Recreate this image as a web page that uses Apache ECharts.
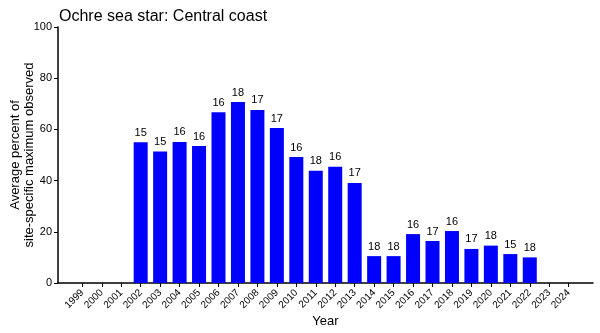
<!DOCTYPE html>
<html>
<head>
<meta charset="utf-8">
<script src="https://cdn.jsdelivr.net/npm/echarts@6/dist/echarts.min.js"></script>
<style>
  html, body { margin: 0; padding: 0; background: #fff; }
  #chart { width: 600px; height: 333px; }
</style>
</head>
<body>
<div id="chart"></div>
<script>
// Survey years shown on the axis
const years = [1999, 2000, 2001, 2002, 2003, 2004, 2005, 2006, 2007, 2008, 2009, 2010, 2011,
  2012, 2013, 2014, 2015, 2016, 2017, 2018, 2019, 2020, 2021, 2022, 2023, 2024];
// Years with data
const dataYears = [2002, 2003, 2004, 2005, 2006, 2007, 2008, 2009, 2010, 2011, 2012, 2013,
  2014, 2015, 2016, 2017, 2018, 2019, 2020, 2021, 2022];
// Average percent of site-specific maximum observed
const avgPercent = [55.0, 51.4, 55.1, 53.5, 66.7, 70.7, 67.6, 60.5, 49.2, 43.8, 45.4, 39.1,
  10.5, 10.5, 19.1, 16.4, 20.3, 13.3, 14.6, 11.3, 10.0];
// Number of sites sampled each year
const siteCounts = [15, 15, 16, 16, 16, 18, 17, 17, 16, 18, 16, 17,
  18, 18, 16, 17, 16, 17, 18, 15, 18];
const yTicks = [0, 20, 40, 60, 80, 100];

const font = '"Liberation Sans", Arial, sans-serif';
const chart = echarts.init(document.getElementById('chart'));

chart.setOption({
  animation: false,
  backgroundColor: '#ffffff',
  title: {
    text: 'Ochre sea star: Central coast',
    left: 54,
    top: 4,
    textStyle: { fontFamily: font, fontSize: 16, fontWeight: 'normal', color: '#000' }
  },
  grid: { left: 58, right: 7, top: 27, bottom: 50, containLabel: false, outerBoundsMode: 'none' },
  xAxis: {
    type: 'value',
    min: years[0] - 1.25,
    max: years[years.length - 1] + 1.25,
    name: 'Year',
    nameLocation: 'middle',
    nameGap: 32,
    nameMoveOverlap: false,
    nameTextStyle: { fontFamily: font, fontSize: 13, color: '#000' },
    axisLine: { show: true, lineStyle: { color: '#000', width: 1.5 } },
    axisTick: { show: true, customValues: years, length: 4, lineStyle: { color: '#000' } },
    axisLabel: {
      customValues: years,
      rotate: 45,
      fontFamily: font,
      fontSize: 10,
      color: '#000',
      margin: 8,
      formatter: v => String(v)
    },
    splitLine: { show: false }
  },
  yAxis: {
    type: 'value',
    min: yTicks[0],
    max: yTicks[yTicks.length - 1],
    interval: 20,
    name: 'Average percent of\nsite-specific maximum observed',
    nameLocation: 'middle',
    nameGap: 22,
    nameMoveOverlap: false,
    nameTextStyle: { fontFamily: font, fontSize: 13, color: '#000', lineHeight: 14 },
    axisLine: { show: true, lineStyle: { color: '#000', width: 1.5 } },
    axisTick: { show: true, length: 4, lineStyle: { color: '#000' } },
    axisLabel: { fontFamily: font, fontSize: 11, color: '#000', margin: 6 },
    splitLine: { show: false }
  },
  series: [{
    type: 'bar',
    barWidth: 14,
    data: dataYears.map((y, i) => [y, avgPercent[i]]),
    itemStyle: { color: '#0000ff' },
    label: {
      show: true,
      position: 'top',
      distance: 4,
      fontFamily: font,
      fontSize: 11,
      color: '#000',
      formatter: p => String(siteCounts[p.dataIndex])
    }
  }]
});
</script>
</body>
</html>
